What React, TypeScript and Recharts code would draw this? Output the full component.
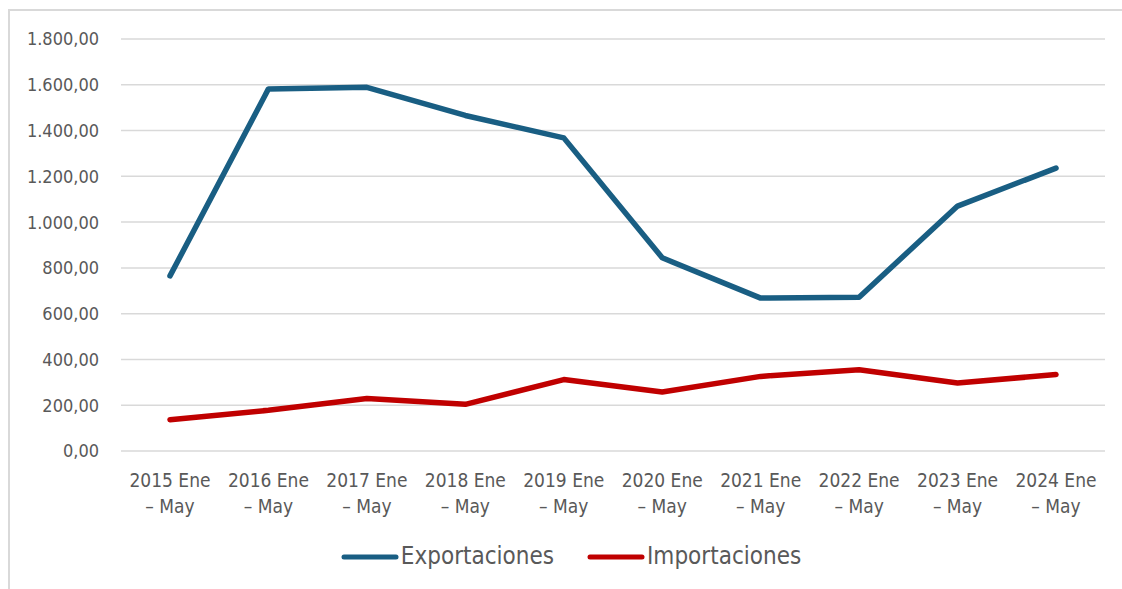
import React from 'react';
import { LineChart, Line, XAxis, YAxis, CartesianGrid, Legend } from 'recharts';

const categories = [
  '2015 Ene – May',
  '2016 Ene – May',
  '2017 Ene – May',
  '2018 Ene – May',
  '2019 Ene – May',
  '2020 Ene – May',
  '2021 Ene – May',
  '2022 Ene – May',
  '2023 Ene – May',
  '2024 Ene – May',
];
const exportaciones = [765, 1582, 1589, 1466, 1368, 844, 668, 672, 1070, 1236];
const importaciones = [137, 178, 229, 204, 312, 258, 326, 355, 297, 334];
const yTicks = [0, 200, 400, 600, 800, 1000, 1200, 1400, 1600, 1800];

const data = categories.map((c, i) => ({
  name: c,
  Exportaciones: exportaciones[i],
  Importaciones: importaciones[i],
}));

const FONT = "'DejaVu Sans Condensed', 'DejaVu Sans', sans-serif";
const TEXT = '#595959';

const fmt = (v: number) => {
  const [int, dec] = v.toFixed(2).split('.');
  return int.replace(/\B(?=(\d{3})+(?!\d))/g, '.') + ',' + dec;
};

const XTick = (props: any) => {
  const { x, y, payload } = props;
  const parts = String(payload.value).split(' – ');
  return (
    <text
      x={x}
      y={y}
      textAnchor="middle"
      fill={TEXT}
      fontSize={19}
      style={{ fontFamily: FONT, fontStretch: 'condensed' }}
    >
      <tspan x={x} dy={35.5}>{parts[0]}</tspan>
      <tspan x={x} dy={26}>{'– ' + parts[1]}</tspan>
    </text>
  );
};

const LegendContent = (props: any) => {
  const { payload } = props;
  return (
    <div
      style={{
        height: 60,
        display: 'flex',
        justifyContent: 'center',
        paddingLeft: 27,
        paddingTop: 14,
        boxSizing: 'border-box',
        fontFamily: FONT,
        fontStretch: 'condensed',
      }}
    >
      {(payload || []).map((p: any, i: number) => (
        <div
          key={i}
          style={{ display: 'flex', alignItems: 'center', marginRight: i === 0 ? 33 : 0, height: 27 }}
        >
          <svg width={58} height={8}>
            <line x1={3} y1={4} x2={55} y2={4} stroke={p.color} strokeWidth={5} strokeLinecap="round" />
          </svg>
          <span style={{ marginLeft: 2, fontSize: 24, color: TEXT, lineHeight: '27px' }}>{p.value}</span>
        </div>
      ))}
    </div>
  );
};

export default function App() {
  return (
    <div
      style={{
        position: 'fixed',
        top: 9,
        left: 8,
        borderLeft: '2px solid #d9d9d9',
        borderTop: '2px solid #d9d9d9',
        width: 1130,
        height: 590,
        boxSizing: 'border-box',
        background: '#fff',
      }}
    >
      <LineChart
        width={1112}
        height={578}
        data={data}
        margin={{ top: 28, right: 17, left: 0, bottom: 0 }}
      >
        <CartesianGrid horizontal vertical={false} stroke="#d9d9d9" strokeWidth={1.5} />
        <XAxis
          dataKey="name"
          axisLine={false}
          tickLine={false}
          tickSize={0}
          tickMargin={0}
          height={78}
          interval={0}
          padding={{ left: 49, right: 49 }}
          tick={<XTick />}
        />
        <YAxis
          width={111}
          domain={[0, 1800]}
          ticks={yTicks}
          axisLine={false}
          tickLine={false}
          tickSize={0}
          tickMargin={22}
          tickFormatter={fmt}
          tick={{ fill: TEXT, fontSize: 18, style: { fontFamily: FONT, fontStretch: 'condensed' } }}
        />
        <Legend verticalAlign="bottom" content={<LegendContent />} />
        <Line
          type="linear"
          dataKey="Exportaciones"
          stroke="#195E83"
          strokeWidth={5.5}
          dot={false}
          activeDot={false}
          strokeLinecap="round"
          strokeLinejoin="round"
          isAnimationActive={false}
        />
        <Line
          type="linear"
          dataKey="Importaciones"
          stroke="#C00000"
          strokeWidth={5.5}
          dot={false}
          activeDot={false}
          strokeLinecap="round"
          strokeLinejoin="round"
          isAnimationActive={false}
        />
      </LineChart>
    </div>
  );
}
